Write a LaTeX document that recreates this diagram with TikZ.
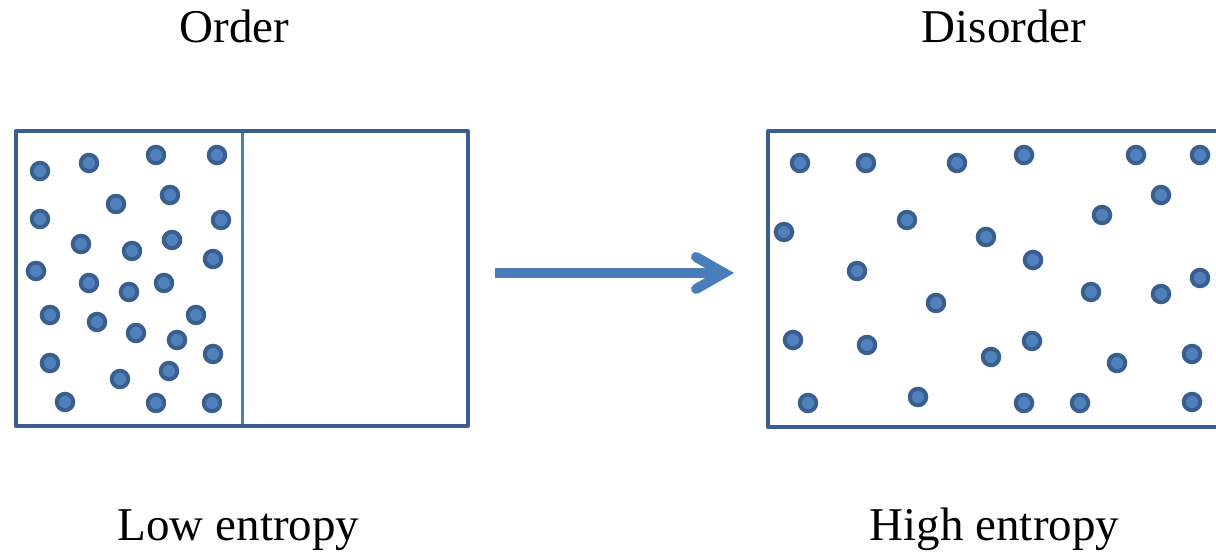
\documentclass[tikz,border=0pt]{standalone}
\usepackage{fontspec}
\setmainfont{Liberation Serif}
\definecolor{boxline}{HTML}{3A5F8E}
\definecolor{lightblue}{HTML}{4A7EBB}
\definecolor{dotfill}{HTML}{4F81BD}
\begin{document}
\begin{tikzpicture}[x=1pt,y=-1pt,
  container/.style={draw=boxline,line width=4pt,rectangle,inner sep=0pt,line join=round},
  particle/.style={circle,draw=boxline,fill=dotfill,line width=4pt,inner sep=0pt,minimum size=16.5pt},
  caption/.style={anchor=base,inner sep=0pt,font=\fontsize{47}{56}\selectfont}]
\clip (0,0) rectangle (1216,553);
\fill[white] (0,0) rectangle (1216,553);

% captions
\node[caption] (order) at (234.5,43) {Order};
\node[caption] (disorder) at (1004,43) {Disorder};
\node[caption] (low) at (238.5,540) {Low entropy};
\node[caption] (high) at (994.5,540) {High entropy};

% left container with its partition
\node[container,minimum width=452pt,minimum height=295pt] (leftbox) at (241.5,278.5) {};
\coordinate (parttop) at (242,133);
\coordinate (partbot) at (242,424);
\draw[lightblue,line width=3pt] (parttop) -- (partbot);

% right container, running past the right edge
\node[container,minimum width=480pt,minimum height=296pt] (rightbox) at (1008,279) {};

% particles packed in the left half
\foreach \i/\px/\py in {1/40/171,2/89/163,3/156/155,4/217/155,5/116/204,6/170/195,
  7/40/219,8/221/220,9/81/244,10/132/251,11/172/240,12/213/259,13/36/271,
  14/89/283,15/129/292,16/164/283,17/50/315,18/97/322,19/136/333,20/196/315,
  21/177/340,22/50/363,23/120/379,24/169/371,25/213/354,26/65/402,27/156/403,28/212/403}
  \node[particle] (l\i) at (\px,\py) {};

% particles spread over the whole right container
\foreach \i/\px/\py in {1/800/163,2/866/163,3/957/163,4/1024/155,5/1136/155,6/1200/155,
  7/1161/195,8/1102/215,9/907/220,10/784/232,11/986/237,12/1033/260,13/857/271,
  14/1091/292,15/1161/294,16/1200/278,17/936/303,18/793/340,19/867/345,20/991/357,
  21/1032/341,22/1117/363,23/1192/354,24/808/403,25/918/397,26/1024/403,27/1080/403,28/1192/402}
  \node[particle] (r\i) at (\px,\py) {};

% transition arrow
\coordinate (arrstart) at (495,273);
\coordinate (arrtip) at (724,273);
\coordinate (wingup) at (696,257);
\coordinate (wingdown) at (696,289);
\draw[lightblue,line width=10pt] (arrstart) -- (arrtip);
\draw[lightblue,line width=10pt,line cap=round,line join=miter] (wingup) -- (arrtip) -- (wingdown);
\end{tikzpicture}
\end{document}
